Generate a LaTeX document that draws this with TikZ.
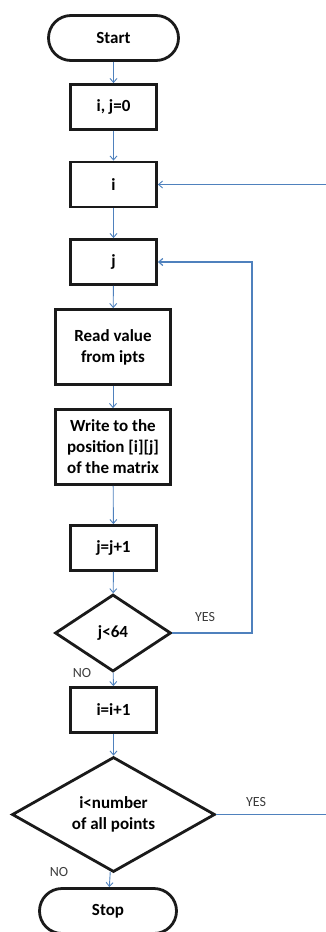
\documentclass[tikz,border=0pt]{standalone}
\usepackage{fontspec}
\setmainfont{Carlito}
\usepackage{tikz}
\usetikzlibrary{arrows.meta,positioning,calc,shapes.geometric}
\definecolor{flowblue}{HTML}{4F81BD}
\definecolor{ink}{HTML}{1A1A1A}

\begin{document}
\begin{tikzpicture}[x=1pt,y=-1pt,
   proc/.style={draw=ink,line width=2.8pt,fill=white,inner sep=2pt,align=center,
      font=\fontsize{17}{21}\selectfont\bfseries,minimum width=#1,minimum height=45},
   proc/.default=86,
   term/.style={proc=#1,rounded corners=22.5},
   dec/.style={diamond,draw=ink,line width=2.8pt,inner sep=0pt,align=center,aspect=1.6,
      font=\fontsize{17}{21}\selectfont\bfseries},
   conn/.style={draw=flowblue,line width=0.9pt,-{Straight Barb[length=4pt,width=7pt]}},
   lab/.style={font=\fontsize{14}{16}\selectfont,text=ink!85}]
  \useasboundingbox (0,0) rectangle (326,932);
  % main column
  \node[term=130] (start) at (113.5,38) {Start};
  \node[proc] (init) at (113.5,107) {i, j=0};
  \node[proc] (iloop) at (113.5,184.5) {i};
  \node[proc] (jloop) at (113.5,262) {j};
  \node[proc=115,minimum height=75] (read) at (113,347) {Read value\\from ipts};
  \node[proc=115,minimum height=75] (write) at (113,447) {Write to the\\position [i][j]\\of the matrix};
  \node[proc] (incj) at (113.5,548) {j=j+1};
  \node[dec,minimum width=116,minimum height=77] (cj) at (113,633) {j<64};
  \node[proc] (inci) at (113.5,710) {i=i+1};
  \node[dec,minimum width=203,minimum height=115] (ci) at (113.5,814.5) {i<number\\of all points};
  \node[term=137] (stop) at (108,911) {Stop};
  % arrows down
  \foreach \a/\b in {start/init,init/iloop,iloop/jloop,jloop/read,read/write,write/incj,incj/cj,cj/inci,inci/ci,ci/stop}
    \draw[conn] (\a) -- (\b);
  % loops back
  \coordinate (jret) at (252,0);
  \coordinate (iret) at (330,0);
  \draw[conn,line width=1.2pt] (cj.east) -- (cj.east -| jret) |- (jloop.east);
  \draw[conn] (ci.east) -- (ci.east -| iret) |- (iloop.east);
  % labels
  \node[lab] (yesj) at (205,617) {YES};
  \node[lab] (noj) at (82,673) {NO};
  \node[lab] (yesi) at (256,802) {YES};
  \node[lab] (noi) at (59,872) {NO};
\end{tikzpicture}
\end{document}
